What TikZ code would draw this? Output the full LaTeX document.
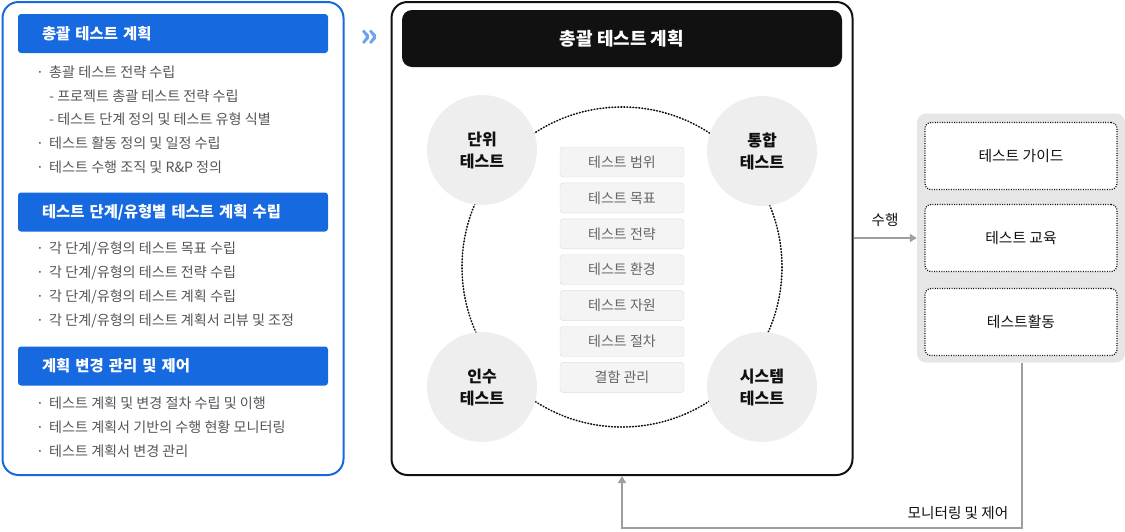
\documentclass[tikz,border=0pt]{standalone}
\usepackage{fontspec}
\setmainfont{Noto Sans CJK KR}
\usepackage{tikz}
\usetikzlibrary{arrows.meta,positioning}
\definecolor{brand}{HTML}{1769E0}
\definecolor{chev}{HTML}{6EA2EC}
\definecolor{ink}{HTML}{111111}
\definecolor{mute}{HTML}{555555}
\definecolor{soft}{HTML}{666666}
\definecolor{disc}{HTML}{EEEEEE}
\definecolor{chip}{HTML}{F4F4F4}
\definecolor{chipline}{HTML}{DDDDDD}
\definecolor{panelg}{HTML}{E6E6E6}
\definecolor{wire}{HTML}{9E9E9E}
\newcommand{\bul}{\makebox[13pt][l]{·}}
\newcommand{\nobul}{\makebox[13pt][l]{}}

\begin{document}
\begin{tikzpicture}[x=1pt,y=-1pt,
  frame/.style={rectangle,rounded corners=16pt,line width=2pt,inner sep=0pt},
  bar/.style={rectangle,rounded corners=3pt,fill=brand,text=white,minimum width=310pt,minimum height=39pt,
    text width=262pt,inner xsep=24pt,align=left,font=\bfseries\fontsize{15.4}{18}\selectfont},
  item/.style={anchor=west,inner sep=0pt,text=mute,font=\fontsize{14.1}{17}\selectfont},
  disk/.style={circle,fill=disc,minimum size=110pt,inner sep=0pt,align=center,text=ink,
    font=\bfseries\fontsize{16}{22}\selectfont},
  chipbox/.style={rectangle,rounded corners=3pt,fill=chip,draw=chipline,minimum width=124pt,minimum height=30pt,
    text=soft,font=\fontsize{14}{16}\selectfont},
  slot/.style={rectangle,rounded corners=6pt,fill=white,draw=ink,line width=1.2pt,dash pattern=on 1pt off 1.4pt,
    minimum width=192pt,minimum height=67pt,text=ink,font=\fontsize{14.8}{17}\selectfont},
  lbl/.style={text=ink,font=\fontsize{14.6}{17}\selectfont},
  arr/.style={-{Triangle[length=7pt,width=8pt]},wire,line width=1.6pt}]
\useasboundingbox (0,0) rectangle (1125,531);

% left column
\node[frame,draw=brand,minimum width=341pt,minimum height=473pt] (lbox) at (173,238.5) {};
\node[bar] (b1) at (173,33.5) {총괄 테스트 계획};
\node[item] (l1) at (36,72) {\bul 총괄 테스트 전략 수립};
\node[item] (l2) at (36,96) {\nobul - 프로젝트 총괄 테스트 전략 수립};
\node[item] (l3) at (36,119) {\nobul - 테스트 단계 정의 및 테스트 유형 식별};
\node[item] (l4) at (36,143) {\bul 테스트 활동 정의 및 일정 수립};
\node[item] (l5) at (36,167) {\bul 테스트 수행 조직 및 R\&P 정의};
\node[bar] (b2) at (173,212) {테스트 단계/유형별 테스트 계획 수립};
\node[item] (l6) at (36,249) {\bul 각 단계/유형의 테스트 목표 수립};
\node[item] (l7) at (36,273) {\bul 각 단계/유형의 테스트 전략 수립};
\node[item] (l8) at (36,297) {\bul 각 단계/유형의 테스트 계획 수립};
\node[item] (l9) at (36,321) {\bul 각 단계/유형의 테스트 계획서 리뷰 및 조정};
\node[bar] (b3) at (173,366) {계획 변경 관리 및 제어};
\node[item] (l10) at (36,403) {\bul 테스트 계획 및 변경 절차 수립 및 이행};
\node[item] (l11) at (36,427) {\bul 테스트 계획서 기반의 수행 현황 모니터링};
\node[item] (l12) at (36,451) {\bul 테스트 계획서 변경 관리};

\node[text=chev,font=\bfseries\fontsize{32}{32}\selectfont] (chv) at (369,38) {»};

% middle frame
\node[frame,draw=ink,minimum width=461pt,minimum height=473pt] (mid) at (622,238.5) {};
\node[rectangle,rounded corners=10pt,fill=ink,text=white,minimum width=440pt,minimum height=57pt,
  font=\bfseries\fontsize{18}{21}\selectfont] (mhead) at (622,38.5) {총괄 테스트 계획};
\coordinate (hub) at (622,267);
\draw[ink,line width=1.6pt,dash pattern=on 0.8pt off 2.2pt,line cap=round] (hub) circle (160);
\node[disk] (unit) at (482,150) {단위\\테스트};
\node[disk] (intg) at (762,151) {통합\\테스트};
\node[disk] (accp) at (482,387) {인수\\테스트};
\node[disk] (syst) at (762,387) {시스템\\테스트};
\node[chipbox] (t1) at (622,162) {테스트 범위};
\node[chipbox,below=5.5pt of t1] (t2) {테스트 목표};
\node[chipbox,below=5.5pt of t2] (t3) {테스트 전략};
\node[chipbox,below=5.5pt of t3] (t4) {테스트 환경};
\node[chipbox,below=5.5pt of t4] (t5) {테스트 자원};
\node[chipbox,below=5.5pt of t5] (t6) {테스트 절차};
\node[chipbox,below=5.5pt of t6] (t7) {결함 관리};

% right panel
\node[rectangle,rounded corners=9pt,fill=panelg,minimum width=208pt,minimum height=249pt] (panel) at (1021,238) {};
\node[slot] (g1) at (1021,156) {테스트 가이드};
\node[slot] (g2) at (1021,238) {테스트 교육};
\node[slot] (g3) at (1021,322) {테스트활동};

\draw[arr] (mid.east |- panel.west) -- (panel.west) node[midway,above=7pt,lbl]{수행};
\coordinate (fb) at (1022,528);
\draw[arr] (panel.south -| fb) -- (fb) -| (mid.south);
\node[lbl] (fbl) at (958,513) {모니터링 및 제어};
\end{tikzpicture}
\end{document}
